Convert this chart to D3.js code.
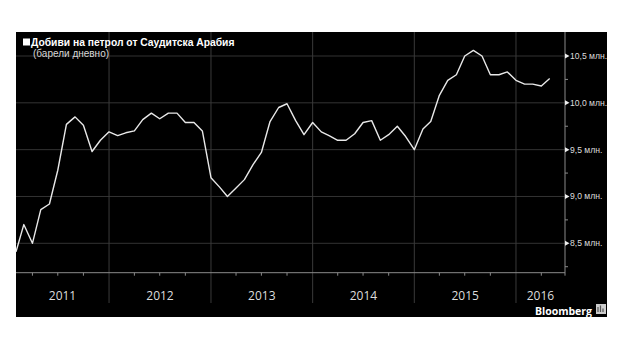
<!DOCTYPE html>
<html>
<head>
<meta charset="utf-8">
<script src="https://cdn.jsdelivr.net/npm/d3@7"></script>
<style>
  body { margin: 0; background: #fff; }
  svg { display: block; }
</style>
</head>
<body>
<div id="chart"></div>
<script>
const title = "Добиви на петрол от Саудитска Арабия";
const subtitle = "(барели дневно)";
const source = "Bloomberg";

// monthly output, million barrels per day
const months = [
  "2011-02", "2011-03", "2011-04", "2011-05", "2011-06", "2011-07", "2011-08", "2011-09", "2011-10", "2011-11", "2011-12",
  "2012-01", "2012-02", "2012-03", "2012-04", "2012-05", "2012-06", "2012-07", "2012-08", "2012-09", "2012-10", "2012-11", "2012-12",
  "2013-01", "2013-02", "2013-03", "2013-04", "2013-05", "2013-06", "2013-07", "2013-08", "2013-09", "2013-10", "2013-11", "2013-12",
  "2014-01", "2014-02", "2014-03", "2014-04", "2014-05", "2014-06", "2014-07", "2014-08", "2014-09", "2014-10", "2014-11", "2014-12",
  "2015-01", "2015-02", "2015-03", "2015-04", "2015-05", "2015-06", "2015-07", "2015-08", "2015-09", "2015-10", "2015-11", "2015-12",
  "2016-01", "2016-02", "2016-03", "2016-04", "2016-05"
];
const output = [
  8.41, 8.70, 8.50, 8.86, 8.92, 9.28, 9.77, 9.85, 9.76, 9.48, 9.60,
  9.69, 9.65, 9.68, 9.70, 9.82, 9.89, 9.83, 9.89, 9.89, 9.79, 9.79, 9.70,
  9.20, 9.10, 9.00, 9.09, 9.18, 9.34, 9.47, 9.80, 9.95, 9.99, 9.81, 9.66,
  9.79, 9.69, 9.65, 9.60, 9.60, 9.67, 9.79, 9.81, 9.60, 9.66, 9.75, 9.64,
  9.50, 9.72, 9.80, 10.08, 10.24, 10.30, 10.50, 10.56, 10.50, 10.30, 10.30, 10.33,
  10.24, 10.20, 10.20, 10.18, 10.26
];
const years = [2011, 2012, 2013, 2014, 2015, 2016];
const yTicks = [8.5, 9.0, 9.5, 10.0, 10.5];
const yMinor = [8.25, 8.75, 9.25, 9.75, 10.25];

const W = 632, H = 355;
const frame = { left: 16, top: 32, right: 607, bottom: 317 };
const plot = { left: 16, top: 32, right: 565, bottom: 272.7 };

const parse = d3.utcParse("%Y-%m");
const data = months.map((m, i) => ({ date: parse(m), value: output[i] }));

const x = d3.scaleUtc()
  .domain([parse("2011-02"), new Date(Date.UTC(2016, 5, 25))])
  .range([plot.left, plot.right]);
const y = d3.scaleLinear()
  .domain([8.5, 10.5])
  .range([243.3, 56]);

const bg = d3.formatLocale({ decimal: ",", thousands: " ", grouping: [3], currency: ["", ""] });
const fmt = bg.format(".1f");

const svg = d3.select("#chart").append("svg")
  .attr("width", W)
  .attr("height", H);

svg.append("rect")
  .attr("x", frame.left).attr("y", frame.top)
  .attr("width", frame.right - frame.left)
  .attr("height", frame.bottom - frame.top)
  .attr("fill", "#000");

// grid
svg.append("g")
  .selectAll("line")
  .data(yTicks)
  .join("line")
  .attr("x1", plot.left).attr("x2", plot.right)
  .attr("y1", d => y(d)).attr("y2", d => y(d))
  .attr("stroke", "#333").attr("stroke-width", 1);

const yearStarts = years.map(yr => new Date(Date.UTC(yr, 0, 1)));
svg.append("g")
  .selectAll("line")
  .data(yearStarts.filter(d => x(d) > plot.left))
  .join("line")
  .attr("x1", d => x(d)).attr("x2", d => x(d))
  .attr("y1", plot.top).attr("y2", 303)
  .attr("stroke", "#3a3a3a").attr("stroke-width", 1);

// x axis
const xAxis = svg.append("g").attr("transform", `translate(0,${plot.bottom})`);
xAxis.append("line")
  .attr("x1", plot.left).attr("x2", plot.right)
  .attr("stroke", "#8a8a8a");
xAxis.selectAll(".q")
  .data(x.ticks(d3.utcMonth.every(3)).filter(d => d.getUTCMonth() !== 0))
  .join("line")
  .attr("x1", d => x(d)).attr("x2", d => x(d))
  .attr("y1", 0).attr("y2", 3)
  .attr("stroke", "#8a8a8a");

svg.append("g")
  .selectAll("text")
  .data(years)
  .join("text")
  .attr("x", yr => {
    const a = Math.max(plot.left, x(new Date(Date.UTC(yr, 0, 1))));
    const b = Math.min(plot.right, x(new Date(Date.UTC(yr + 1, 0, 1))));
    return (a + b) / 2;
  })
  .attr("y", 299.5)
  .attr("text-anchor", "middle")
  .attr("font-family", "'Open Sans', sans-serif")
  .attr("font-size", 12)
  .attr("fill", "#ddd")
  .text(d => d);

// y axis
const yAxis = svg.append("g").attr("transform", `translate(${plot.right},0)`);
yAxis.append("line")
  .attr("y1", plot.top).attr("y2", plot.bottom + 3)
  .attr("stroke", "#8a8a8a");
yAxis.selectAll(".minor")
  .data(yMinor)
  .join("line")
  .attr("x1", 0).attr("x2", 3)
  .attr("y1", d => y(d)).attr("y2", d => y(d))
  .attr("stroke", "#8a8a8a");
yAxis.selectAll(".major")
  .data(yTicks)
  .join("path")
  .attr("d", d => `M0,${y(d) - 2.5}L4.5,${y(d)}L0,${y(d) + 2.5}Z`)
  .attr("fill", "#eee");
yAxis.selectAll("text")
  .data(yTicks)
  .join("text")
  .attr("x", 5)
  .attr("y", d => y(d))
  .attr("dy", "0.35em")
  .attr("font-family", "'Liberation Sans', Arial, sans-serif")
  .attr("font-size", 8.6)
  .attr("fill", "#ddd")
  .text(d => `${fmt(d)} млн.`);

// line
svg.append("path")
  .datum(data)
  .attr("fill", "none")
  .attr("stroke", "#e8e8e8")
  .attr("stroke-width", 1.4)
  .attr("stroke-linejoin", "round")
  .attr("d", d3.line().x(d => x(d.date)).y(d => y(d.value)));

// title
svg.append("rect")
  .attr("x", 23).attr("y", 38.5)
  .attr("width", 7).attr("height", 7)
  .attr("fill", "#fff");
svg.append("text")
  .attr("x", 31).attr("y", 45.5)
  .attr("font-family", "'Liberation Sans', Arial, sans-serif")
  .attr("font-weight", "bold")
  .attr("font-size", 10.3)
  .attr("fill", "#fff")
  .text(title);
svg.append("text")
  .attr("x", 33).attr("y", 57)
  .attr("font-family", "'Liberation Sans', Arial, sans-serif")
  .attr("font-size", 10)
  .attr("fill", "#d8d8d8")
  .text(subtitle);

// source
svg.append("text")
  .attr("x", 592).attr("y", 314.5)
  .attr("text-anchor", "end")
  .attr("font-family", "'Open Sans', sans-serif")
  .attr("font-weight", "bold")
  .attr("font-size", 10.5)
  .attr("fill", "#fff")
  .text(source);
svg.append("rect")
  .attr("x", 596).attr("y", 304)
  .attr("width", 10).attr("height", 10)
  .attr("fill", "#ccc");
svg.append("path")
  .attr("d", "M598,312V307M600.5,312V305.5M603,312V308.5")
  .attr("stroke", "#555").attr("stroke-width", 1.2);
</script>
</body>
</html>
